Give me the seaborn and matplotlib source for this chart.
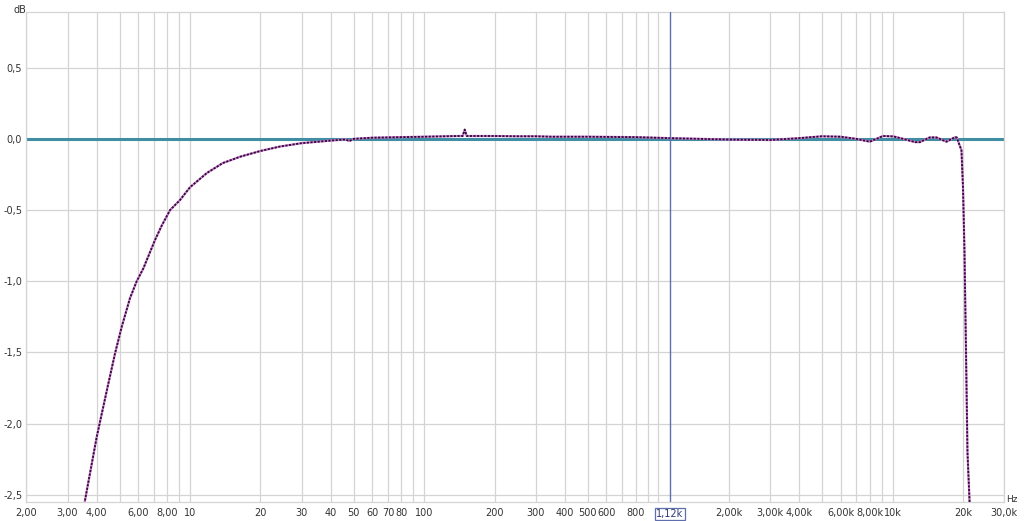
import matplotlib
matplotlib.use("Agg")
import matplotlib.pyplot as plt
from matplotlib.ticker import NullFormatter
import seaborn as sns
import numpy as np
import pandas as pd

# Frequenzgang (Hz, dB)
freq = [3.4, 3.56, 4.0, 4.41, 4.78, 5.11, 5.54, 5.92, 6.32, 7.09, 7.57, 8.22,
        9.06, 10, 11.8, 13.8, 16.4, 20, 24.2, 30, 40, 46, 48, 50, 60, 80, 100,
        140, 146, 149, 152, 160, 200, 250, 300, 350, 500, 800, 1120, 1500, 2000,
        3000, 4000, 5000, 6000, 7000, 8000, 9100, 10100, 11100, 12500, 13100,
        14400, 15400, 17000, 18500, 18800, 19700, 20000, 20300, 20600, 20900,
        21400, 21800]
gain = [-2.8, -2.54, -2.09, -1.77, -1.51, -1.32, -1.12, -1.0, -0.91, -0.71,
        -0.61, -0.5, -0.43, -0.34, -0.24, -0.17, -0.125, -0.085, -0.054, -0.03,
        -0.012, -0.004, -0.015, 0.0, 0.008, 0.012, 0.015, 0.02, 0.02, 0.065,
        0.02, 0.02, 0.02, 0.018, 0.018, 0.015, 0.015, 0.012, 0.005, 0.0, -0.005,
        -0.008, 0.005, 0.018, 0.015, 0.0, -0.02, 0.02, 0.017, 0.0, -0.023,
        -0.023, 0.01, 0.01, -0.02, 0.012, 0.01, -0.08, -0.34, -0.8, -1.5, -2.2,
        -2.6, -3.0]

cursor_freq = 1120
cursor_label = "1,12k"

xtick_pos = [2, 3, 4, 6, 8, 10, 20, 30, 40, 50, 60, 70, 80, 100, 200, 300,
             400, 500, 600, 800, 2000, 3000, 4000, 6000, 8000, 10000, 20000, 30000]
xtick_lab = ["2,00", "3,00", "4,00", "6,00", "8,00", "10", "20", "30", "40",
             "50", "60", "70", "80", "100", "200", "300", "400", "500", "600",
             "800", "2,00k", "3,00k", "4,00k", "6,00k", "8,00k", "10k", "20k",
             "30,0k"]
ytick_pos = [0.5, 0.0, -0.5, -1.0, -1.5, -2.0, -2.5]
ytick_lab = ["0,5", "0,0", "-0,5", "-1,0", "-1,5", "-2,0", "-2,5"]

sns.set_style("white")
plt.rcParams['font.family'] = ['DejaVu Sans']

df = pd.DataFrame({"Hz": freq, "dB": gain})

fig = plt.figure(figsize=(10.24, 5.21), dpi=100)
ax = fig.add_axes([0.0257, 0.0365, 0.955, 0.9405])

grid_c = "#d4d4d4"
ax.set_xscale("log")
ax.set_xlim(2, 30000)
ax.set_ylim(-2.55, 0.891)

# Gitter
minor = [m * 10 ** e for e in range(0, 5) for m in range(1, 10)]
minor = [v for v in minor if 2 <= v <= 30000]
ax.set_xticks(minor, minor=True)
ax.xaxis.set_minor_formatter(NullFormatter())
ax.set_xticks(xtick_pos)
ax.set_xticklabels(xtick_lab)
ax.set_yticks(ytick_pos)
ax.set_yticklabels(ytick_lab)
ax.grid(True, which="both", axis="x", color=grid_c, lw=0.9)
ax.grid(True, which="major", axis="y", color=grid_c, lw=0.9)
ax.tick_params(which="both", length=0, labelsize=7, colors="#333333")
ax.tick_params(axis="x", pad=4)
ax.tick_params(axis="y", pad=3)
for s in ax.spines.values():
    s.set_color(grid_c)
    s.set_linewidth(0.9)
ax.set_axisbelow(True)

# Nulllinie
ax.axhline(0, color="#3f8ea3", lw=2.2, zorder=2)

# Messkurven
sns.lineplot(data=df, x="Hz", y="dB", ax=ax, color="#d27ad6", lw=1.6,
             zorder=3, legend=False)
sns.lineplot(data=df, x="Hz", y="dB", ax=ax, color="#2a1030", lw=1.3,
             linestyle=(0, (1.2, 0.8)), zorder=4, legend=False)
ax.set_xlabel("")
ax.set_ylabel("")

# Cursor
ax.axvline(cursor_freq, color="#5f6fae", lw=1.0, zorder=5)
ax.annotate(cursor_label, xy=(cursor_freq, 0), xycoords=("data", "axes fraction"),
            xytext=(0, -8.5), textcoords="offset points", ha="center", va="center",
            fontsize=7, color="#303878", zorder=6,
            bbox=dict(boxstyle="square,pad=0.12", fc="white", ec="#5f6fae", lw=0.9))

fig.text(0.019, 0.99, "dB", fontsize=7, color="#333333", ha="center", va="top")
fig.text(0.988, 0.041, "Hz", fontsize=6.5, color="#333333", ha="center", va="center")

fig.savefig("out.png", dpi=100)
